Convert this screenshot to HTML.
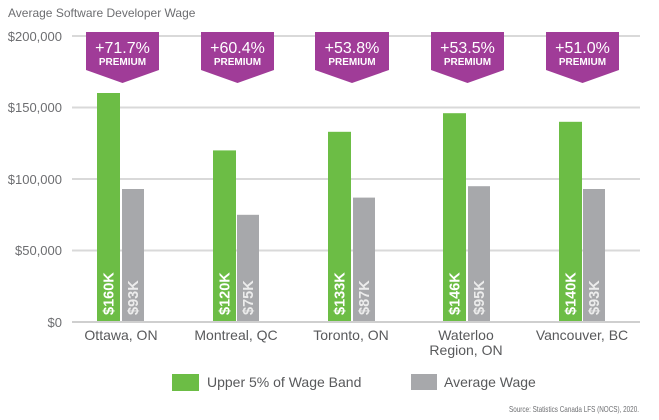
<!DOCTYPE html>
<html><head><meta charset="utf-8"><style>
html,body{margin:0;padding:0;background:#fff;}
svg{display:block;}
text{font-family:"Liberation Sans",sans-serif;}
</style></head><body>
<svg width="659" height="420" viewBox="0 0 659 420" xmlns="http://www.w3.org/2000/svg">
<text x="8" y="17" font-size="12" fill="#6d6e71">Average Software Developer Wage</text>
<g stroke="#d9d9d9" stroke-width="2">
<line x1="72" y1="36" x2="640" y2="36"/>
<line x1="72" y1="107.5" x2="640" y2="107.5"/>
<line x1="72" y1="179" x2="640" y2="179"/>
<line x1="72" y1="250.5" x2="640" y2="250.5"/>
<line x1="72" y1="322" x2="640" y2="322" stroke="#cfcfcf"/>
</g>
<g font-size="13" fill="#6d6e71" text-anchor="end">
<text x="62" y="41">$200,000</text>
<text x="62" y="112">$150,000</text>
<text x="62" y="184">$100,000</text>
<text x="62" y="255">$50,000</text>
<text x="62" y="327">$0</text>
</g>
<g fill="#a03c98">
<polygon points="86,32 159,32 159,70 122.5,83 86,70"/>
<polygon points="201,32 274,32 274,70 237.5,83 201,70"/>
<polygon points="315,32 389,32 389,70 352,83 315,70"/>
<polygon points="431,32 504,32 504,70 467.5,83 431,70"/>
<polygon points="546,32 619,32 619,70 582.5,83 546,70"/>
</g>
<g fill="#fff" text-anchor="middle">
<text x="122.5" y="53" font-size="16">+71.7%</text>
<text x="122.5" y="65" font-size="10" font-weight="bold">PREMIUM</text>
<text x="237.5" y="53" font-size="16">+60.4%</text>
<text x="237.5" y="65" font-size="10" font-weight="bold">PREMIUM</text>
<text x="352" y="53" font-size="16">+53.8%</text>
<text x="352" y="65" font-size="10" font-weight="bold">PREMIUM</text>
<text x="467.5" y="53" font-size="16">+53.5%</text>
<text x="467.5" y="65" font-size="10" font-weight="bold">PREMIUM</text>
<text x="582.5" y="53" font-size="16">+51.0%</text>
<text x="582.5" y="65" font-size="10" font-weight="bold">PREMIUM</text>
</g>
<g fill="#6cbd45">
<rect x="97" y="93" width="23" height="228"/>
<rect x="213" y="150.4" width="23" height="170.6"/>
<rect x="328" y="131.8" width="23" height="189.2"/>
<rect x="443" y="113.2" width="23" height="207.8"/>
<rect x="559" y="121.8" width="23" height="199.2"/>
</g>
<g fill="#a7a8ab">
<rect x="122" y="189" width="22" height="132"/>
<rect x="237" y="214.8" width="22" height="106.2"/>
<rect x="353" y="197.6" width="22" height="123.4"/>
<rect x="468" y="186.2" width="22" height="134.8"/>
<rect x="583" y="189" width="22" height="132"/>
</g>
<g font-size="14.5" font-weight="bold" fill="#fff">
<text transform="translate(113.5,315) rotate(-90)">$160K</text>
<text transform="translate(229.5,315) rotate(-90)">$120K</text>
<text transform="translate(344.5,315) rotate(-90)">$133K</text>
<text transform="translate(459.5,315) rotate(-90)">$146K</text>
<text transform="translate(575.5,315) rotate(-90)">$140K</text>
</g>
<g font-size="14.5" font-weight="bold" fill="#ececec">
<text transform="translate(138,315) rotate(-90)">$93K</text>
<text transform="translate(253,315) rotate(-90)">$75K</text>
<text transform="translate(369,315) rotate(-90)">$87K</text>
<text transform="translate(484,315) rotate(-90)">$95K</text>
<text transform="translate(599,315) rotate(-90)">$93K</text>
</g>
<g font-size="14" fill="#58595b" text-anchor="middle">
<text x="121" y="340">Ottawa, ON</text>
<text x="236" y="340">Montreal, QC</text>
<text x="351" y="340">Toronto, ON</text>
<text x="466" y="340">Waterloo</text>
<text x="466" y="355">Region, ON</text>
<text x="582" y="340">Vancouver, BC</text>
</g>
<rect x="172" y="374" width="27" height="17" fill="#6cbd45"/>
<text x="207" y="387" font-size="14" fill="#58595b">Upper 5% of Wage Band</text>
<rect x="411" y="374" width="26" height="16" fill="#a7a8ab"/>
<text x="444" y="387" font-size="14" fill="#58595b">Average Wage</text>
<text x="509" y="412" font-size="8.5" fill="#6d6e71" textLength="130" lengthAdjust="spacingAndGlyphs">Source: Statistics Canada LFS (NOCS), 2020.</text>
</svg>
</body></html>
